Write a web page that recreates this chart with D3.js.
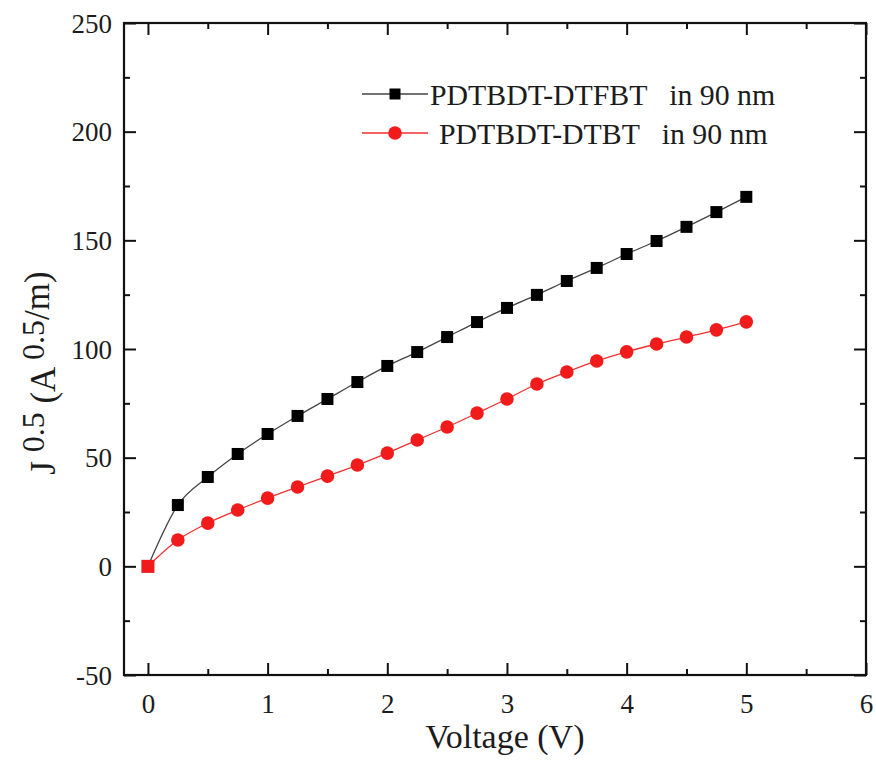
<!DOCTYPE html>
<html>
<head>
<meta charset="utf-8">
<script src="https://cdn.jsdelivr.net/npm/d3@7/dist/d3.min.js"></script>
<style>
  html, body { margin: 0; padding: 0; background: #fff; }
  svg text { font-family: "Liberation Serif", "Times New Roman", serif !important; fill: #1c1c1c; }
</style>
</head>
<body>
<svg id="chart" width="876" height="763"></svg>
<script>
// Sweep voltages (V)
const voltage = [0, 0.25, 0.5, 0.75, 1, 1.25, 1.5, 1.75, 2, 2.25, 2.5, 2.75, 3, 3.25, 3.5, 3.75, 4, 4.25, 4.5, 4.75, 5];
// J^0.5 (A^0.5/m) for each film
const dtfbt = [0, 28.2, 41.1, 51.7, 60.9, 69.2, 77, 84.8, 92.2, 98.6, 105.5, 112.4, 118.9, 124.9, 131.3, 137.3, 143.7, 149.7, 156.2, 163, 170];
const dtbt  = [0, 12.1, 19.9, 25.9, 31.4, 36.5, 41.5, 46.6, 52.1, 58.1, 64.1, 70.5, 77, 83.9, 89.4, 94.5, 98.7, 102.3, 105.5, 108.8, 112.5];
const seriesNames = ["PDTBDT-DTFBT   in 90 nm", "PDTBDT-DTBT   in 90 nm"];
const xTicks = [0, 1, 2, 3, 4, 5, 6];
const yTicks = [-50, 0, 50, 100, 150, 200, 250];

const svg = d3.select("#chart");
const m = { left: 124, top: 23, right: 10, bottom: 88 };
const W = 876 - m.left - m.right, H = 763 - m.top - m.bottom;

const x = d3.scaleLinear().domain([-0.2, 6]).range([0, W]);
const y = d3.scaleLinear().domain([-50, 250]).range([H, 0]);

const g = svg.append("g").attr("transform", `translate(${m.left},${m.top})`);

// Axes with inward ticks on all four sides
const xMinor = d3.range(0.5, 6, 1);
const yMinor = d3.range(-25, 250, 50);

function tickAxis(axisFn, scale, major, minor, tr, showLabels) {
  const ax = g.append("g").attr("transform", tr);
  ax.call(axisFn(scale).tickValues(major).tickSize(-12)
    .tickFormat(showLabels ? (d => String(d)) : () => ""));
  ax.append("g").call(axisFn(scale).tickValues(minor).tickSize(-6).tickFormat(() => ""))
    .select(".domain").remove();
  ax.selectAll(".tick line").attr("stroke", "#111").attr("stroke-width", 2);
  ax.select(".domain").remove();
  ax.selectAll("text").attr("font-size", 27);
  return ax;
}
const xb = tickAxis(d3.axisBottom, x, xTicks, xMinor, `translate(0,${H})`, true);
xb.selectAll(".tick text").attr("y", 38).attr("dy", 0);
tickAxis(d3.axisTop, x, xTicks, xMinor, `translate(0,0)`, false);
const yl = tickAxis(d3.axisLeft, y, yTicks, yMinor, `translate(0,0)`, true);
yl.selectAll(".tick text").attr("x", -12).attr("dy", "0.34em");
tickAxis(d3.axisRight, y, yTicks, yMinor, `translate(${W},0)`, false);

// Frame
g.append("rect").attr("width", W).attr("height", H)
  .attr("fill", "none").attr("stroke", "#111").attr("stroke-width", 2.2);

// Curves
const line = d3.line().curve(d3.curveMonotoneX).x(d => x(d[0])).y(d => y(d[1]));
const black = voltage.map((v, i) => [v, dtfbt[i]]);
const red = voltage.map((v, i) => [v, dtbt[i]]);

g.append("path").datum(black).attr("d", line).attr("fill", "none").attr("stroke", "#444").attr("stroke-width", 1.3);
g.append("path").datum(red).attr("d", line).attr("fill", "none").attr("stroke", "#f03030").attr("stroke-width", 1.3);

const sq = 12, rr = 6.8;
g.selectAll(".sq").data(black).join("rect")
  .attr("x", d => x(d[0]) - sq / 2).attr("y", d => y(d[1]) - sq / 2)
  .attr("width", sq).attr("height", sq).attr("fill", "#000");
// red markers: the origin shared with the black series is drawn as a square
g.selectAll(".rc").data(red.filter((d, i) => dtfbt[i] !== d[1])).join("circle")
  .attr("cx", d => x(d[0])).attr("cy", d => y(d[1])).attr("r", rr).attr("fill", "#f21b1b");
g.selectAll(".rs").data(red.filter((d, i) => dtfbt[i] === d[1])).join("rect")
  .attr("x", d => x(d[0]) - sq / 2 - 0.5).attr("y", d => y(d[1]) - sq / 2 - 0.5)
  .attr("width", sq + 1).attr("height", sq + 1).attr("fill", "#f21b1b");

// Legend
const leg = svg.append("g");
const rows = [
  { y: 94, color: "#444", mark: "sq", tx: 430, name: seriesNames[0] },
  { y: 133, color: "#f03030", mark: "c", tx: 439, name: seriesNames[1] }
];
rows.forEach(r => {
  leg.append("line").attr("x1", 362).attr("x2", 428).attr("y1", r.y).attr("y2", r.y)
    .attr("stroke", r.color).attr("stroke-width", 1.3);
  if (r.mark === "sq") {
    leg.append("rect").attr("x", 395 - 5.5).attr("y", r.y - 5.5).attr("width", 11).attr("height", 11).attr("fill", "#000");
  } else {
    leg.append("circle").attr("cx", 395).attr("cy", r.y).attr("r", 6.8).attr("fill", "#f21b1b");
  }
  leg.append("text").attr("x", r.tx).attr("y", r.y + 11).attr("font-size", 29.8)
    .style("white-space", "pre").text(r.name);
});

// Axis titles
svg.append("text").attr("x", 505).attr("y", 748).attr("text-anchor", "middle")
  .attr("font-size", 34).text("Voltage (V)");

const yt = svg.append("text").attr("transform", "translate(55,373) rotate(-90)")
  .attr("text-anchor", "middle").attr("font-size", 35);
yt.append("tspan").text("J ");
yt.append("tspan").attr("dy", -11).attr("font-size", 32).text("0.5");
yt.append("tspan").attr("dy", 11).text(" (A ");
yt.append("tspan").attr("dy", -11).attr("font-size", 32).text("0.5");
yt.append("tspan").attr("dy", 5).text("/m)");
</script>
</body>
</html>
